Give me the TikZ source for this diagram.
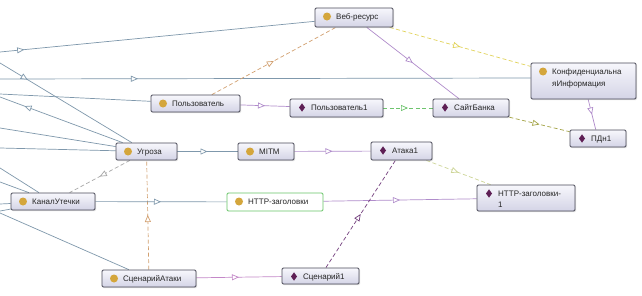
\documentclass[tikz,border=0pt]{standalone}
\usepackage{fontspec}
\setmainfont{Liberation Sans}
\usetikzlibrary{arrows.meta,decorations.markings,shadows}

\definecolor{boxtop}{HTML}{F7F7FC}
\definecolor{boxbot}{HTML}{D4D4E6}
\definecolor{boxline}{HTML}{4A4A58}
\definecolor{clsgold}{HTML}{D4A63C}
\definecolor{indpurp}{HTML}{5E1F55}
\definecolor{cblue}{HTML}{7F98AC}
\definecolor{cpurp}{HTML}{B08CCB}
\definecolor{cpink}{HTML}{C488C8}
\definecolor{corange}{HTML}{D2A070}
\definecolor{cyellow}{HTML}{E2D35A}
\definecolor{cgreen}{HTML}{6EC46E}
\definecolor{colive}{HTML}{A5A548}
\definecolor{cpale}{HTML}{CDD596}
\definecolor{cgray}{HTML}{A8A8A8}
\definecolor{cdpurp}{HTML}{74407E}
\definecolor{hgreen}{HTML}{66C466}

\pgfdeclarelayer{bg}
\pgfdeclarelayer{edges}
\pgfsetlayers{bg,edges,main}

\tikzset{
  obox/.style={draw=boxline, line width=0.8pt, rounded corners=1.2pt,
    top color=boxtop, bottom color=boxbot, inner sep=0pt,
    drop shadow={shadow xshift=1pt, shadow yshift=-1pt, opacity=0.25}},
  hbox/.style={draw=hgreen, line width=0.8pt, rounded corners=1.2pt,
    fill=white, inner sep=0pt},
  otext/.style={font=\fontsize{8}{10}\selectfont, text=black!85,
    inner sep=0pt, anchor=base west},
  edge/.style={line width=0.7pt},
  dsh/.style={dash pattern=on 4pt off 2.5pt},
  midarrow/.style={postaction={decorate, decoration={markings,
    mark=at position #1 with {\arrow{Triangle[length=7pt,width=6pt,fill=white,line width=0.7pt]}}}}},
  midarrow/.default=0.5,
  backarrow/.style={postaction={decorate, decoration={markings,
    mark=at position #1 with {\arrowreversed{Triangle[length=7pt,width=6pt,fill=white,line width=0.7pt]}}}}},
}

% #1 name, #2 left, #3 top, #4 right, #5 bottom, #6 style, #7 icon type (c/i), #8 text
\newcommand{\ontbox}[8]{%
  \node[#6, minimum width={#4pt-#2pt}, minimum height={#5pt-#3pt}] (#1) at ({(#2+#4)/2},{(#3+#5)/2}) {};
  \if#7c
    \fill[clsgold] ({#2+12},{#3+8.5}) circle (4pt);
  \else
    \fill[indpurp] ({#2+12},{#3+4.3}) -- ({#2+15},{#3+8.5}) -- ({#2+12},{#3+12.7}) -- ({#2+9},{#3+8.5}) -- cycle;
  \fi
  \node[otext] (#1-t) at ({#2+21},{#3+11.6}) {#8};
}

\begin{document}
\begin{tikzpicture}[x=1pt,y=-1pt]
\useasboundingbox (0,0) rectangle (642,295);
\begin{pgfonlayer}{bg}
  \fill[white] (0,0) rectangle (642,295);
\end{pgfonlayer}

\ontbox{web}{315}{8}{393}{27}{obox}{c}{Веб-ресурс}
\ontbox{conf}{531}{63}{636}{99}{obox}{c}{Конфиденциальна}
\node[otext] (conf-t2) at (552,86) {яИнформация};
\ontbox{user}{151}{95}{240}{112}{obox}{c}{Пользователь}
\ontbox{user1}{290}{99}{383}{117}{obox}{i}{Пользователь1}
\ontbox{site}{433}{99}{509}{117}{obox}{i}{СайтБанка}
\ontbox{pdn}{570}{130}{626}{147}{obox}{i}{ПДн1}
\ontbox{threat}{116}{143}{177}{160}{obox}{c}{Угроза}
\ontbox{mitm}{238}{143}{294}{160}{obox}{c}{MITM}
\ontbox{attack}{371}{142}{432}{160}{obox}{i}{Атака1}
\ontbox{http1}{477}{185}{575}{211}{obox}{i}{HTTP-заголовки-}
\node[otext] (http1-t2) at (498,207) {1};
\ontbox{leak}{11}{193}{95}{210}{obox}{c}{КаналУтечки}
\ontbox{http}{227}{193}{323}{211}{hbox}{c}{HTTP-заголовки}
\ontbox{scen}{102}{270}{196}{287}{obox}{c}{СценарийАтаки}
\ontbox{scen1}{282}{268}{359}{284}{obox}{i}{Сценарий1}

\coordinate (L1) at (0,52);
\coordinate (L2) at (0,79);
\coordinate (L3) at (0,63);
\coordinate (L4) at (0,94);
\coordinate (L5) at (0,97);
\coordinate (L6) at (0,128);
\coordinate (L7) at (0,148);
\coordinate (L8) at (0,168);
\coordinate (L9) at (0,182);
\coordinate (L10) at (0,204);
\coordinate (L11) at (0,211);
\coordinate (L12) at (0,213);

\begin{pgfonlayer}{edges}
\draw[edge,cblue,midarrow=0.077] (L1) -- (web);
\draw[edge,cblue,midarrow=0.26] (L2) -- ([yshift=3pt]conf.west);
\draw[edge,cblue,midarrow=0.21] (L3) -- (threat);
\draw[edge,cblue] (L4) -- (user);
\draw[edge,cblue,backarrow=0.2] (L5) -- (threat);
\draw[edge,cblue] (L6) -- (threat);
\draw[edge,cblue] (L7) -- (threat);
\draw[edge,cblue] (L8) -- (leak);
\draw[edge,cblue] (L9) -- (leak);
\draw[edge,cblue] (L10) -- (leak);
\draw[edge,cblue] (L11) -- (leak);
\draw[edge,cblue] (L12) -- (scen);

\draw[edge,corange,dsh,midarrow] (user) -- (web);
\draw[edge,cpurp,midarrow] (web) -- (site);
\draw[edge,cyellow,dsh,midarrow] (web) -- (conf);
\draw[edge,cpurp,midarrow] (conf) -- (pdn);
\draw[edge,colive,dsh,midarrow] (site) -- (pdn);
\draw[edge,cpurp,midarrow] (user) -- (user1);
\draw[edge,cgreen,dsh,midarrow] (user1) -- (site);
\draw[edge,cblue,midarrow] (threat) -- (mitm);
\draw[edge,cpurp,midarrow] (mitm) -- (attack);
\draw[edge,cpale,dsh,midarrow] (attack) -- (http1);
\draw[edge,cgray,dsh,midarrow] (threat) -- (leak);
\draw[edge,corange,dsh,midarrow] (scen) -- (threat);
\draw[edge,cblue,midarrow] (leak) -- (http);
\draw[edge,cpurp,midarrow] (http) -- (http1);
\draw[edge,cpink,midarrow] (scen) -- (scen1);
\draw[edge,cdpurp,dsh,midarrow] (scen1) -- (attack);
\end{pgfonlayer}
\end{tikzpicture}
\end{document}
